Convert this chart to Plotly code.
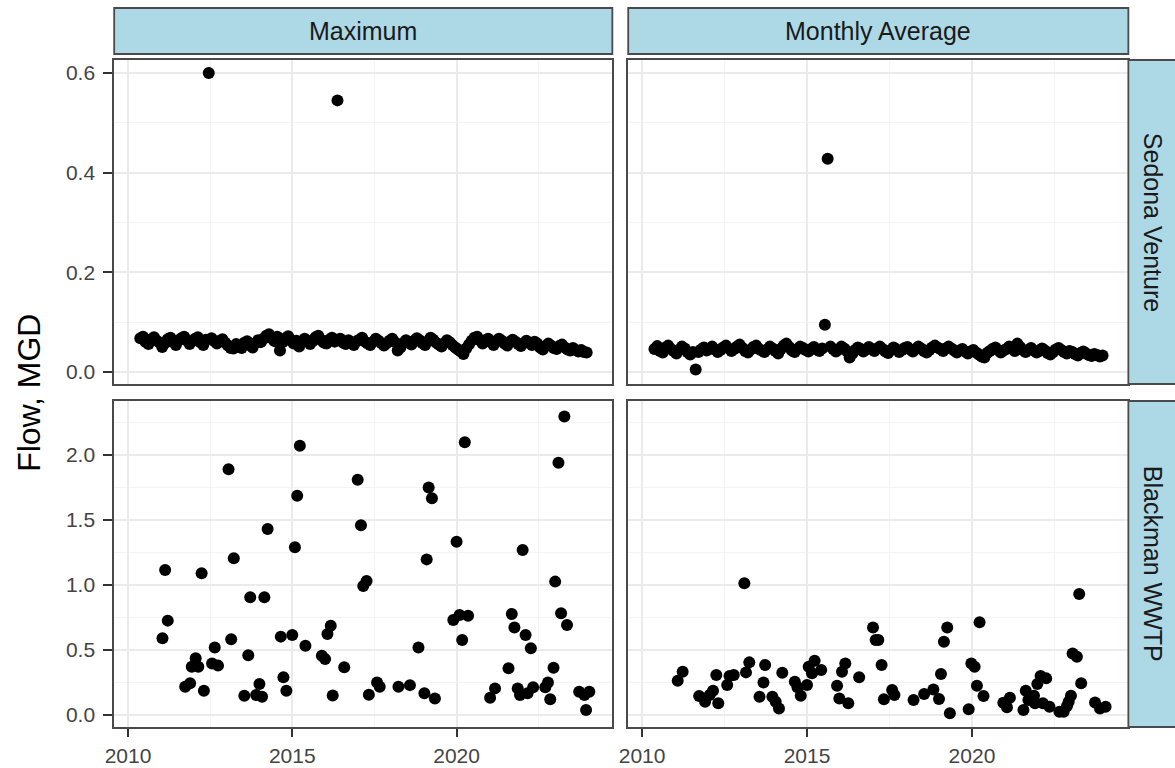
import plotly.graph_objects as go

W, H = 1175, 768

# ---------------- data ----------------
# Sedona Venture: monthly series starting May 2010 (decimal-year mid-month)
sed_start = 2010.375
sed_max = [
    # 2010 (May-Dec)
    0.068, 0.071, 0.060, 0.056, 0.066, 0.070, 0.063, 0.059,
    # 2011
    0.050, 0.058, 0.066, 0.069, 0.060, 0.054, 0.064, 0.068, 0.071, 0.063, 0.056, 0.062,
    # 2012
    0.067, 0.070, 0.059, 0.054, 0.065, 0.600, 0.068, 0.062, 0.057, 0.063, 0.066, 0.059,
    # 2013
    0.053, 0.048, 0.047, 0.056, 0.051, 0.048, 0.059, 0.062, 0.054, 0.049, 0.058, 0.064,
    # 2014
    0.060, 0.067, 0.073, 0.076, 0.068, 0.062, 0.071, 0.043, 0.060, 0.068, 0.072, 0.064,
    # 2015
    0.057, 0.063, 0.051, 0.060, 0.067, 0.063, 0.056, 0.062, 0.070, 0.073, 0.065, 0.059,
    # 2016
    0.057, 0.065, 0.069, 0.061, 0.545, 0.067, 0.059, 0.056, 0.064, 0.058, 0.054, 0.062,
    # 2017
    0.065, 0.069, 0.061, 0.057, 0.054, 0.061, 0.067, 0.063, 0.058, 0.053, 0.058, 0.063,
    # 2018
    0.067, 0.060, 0.043, 0.049, 0.058, 0.064, 0.060, 0.055, 0.063, 0.068, 0.064, 0.058,
    # 2019
    0.054, 0.062, 0.069, 0.065, 0.059, 0.055, 0.051, 0.058, 0.064, 0.060, 0.054, 0.049,
    # 2020
    0.045, 0.041, 0.036, 0.047, 0.055, 0.063, 0.069, 0.071, 0.064, 0.057, 0.064, 0.067,
    # 2021
    0.060, 0.054, 0.063, 0.067, 0.063, 0.057, 0.053, 0.061, 0.065, 0.061, 0.056, 0.052,
    # 2022
    0.058, 0.063, 0.059, 0.054, 0.061, 0.057, 0.049, 0.045, 0.052, 0.057, 0.053, 0.048,
    # 2023
    0.046, 0.052, 0.055, 0.049, 0.045, 0.043, 0.048, 0.044, 0.041, 0.044, 0.040, 0.039,
]
sed_avg = [
    # 2010 (May-Dec)
    0.046, 0.052, 0.042, 0.039, 0.049, 0.053, 0.046, 0.042,
    # 2011
    0.037, 0.044, 0.051, 0.047, 0.040, 0.035, 0.040, 0.005, 0.040, 0.045, 0.049, 0.043,
    # 2012
    0.046, 0.051, 0.045, 0.040, 0.044, 0.049, 0.053, 0.047, 0.042, 0.046, 0.051, 0.055,
    # 2013
    0.048, 0.042, 0.039, 0.045, 0.050, 0.053, 0.046, 0.043, 0.040, 0.045, 0.051, 0.047,
    # 2014
    0.042, 0.037, 0.046, 0.053, 0.057, 0.050, 0.043, 0.040, 0.046, 0.051, 0.048, 0.044,
    # 2015
    0.041, 0.046, 0.050, 0.045, 0.042, 0.047, 0.095, 0.428, 0.051, 0.046, 0.041, 0.045,
    # 2016
    0.051, 0.047, 0.042, 0.029, 0.037, 0.044, 0.049, 0.046, 0.041, 0.045, 0.050, 0.046,
    # 2017
    0.042, 0.047, 0.051, 0.046, 0.041, 0.038, 0.044, 0.049, 0.045, 0.040, 0.044, 0.048,
    # 2018
    0.050, 0.045, 0.041, 0.046, 0.051, 0.047, 0.042, 0.039, 0.044, 0.049, 0.053, 0.049,
    # 2019
    0.046, 0.042, 0.047, 0.051, 0.047, 0.043, 0.039, 0.043, 0.046, 0.041, 0.037, 0.041,
    # 2020
    0.044, 0.039, 0.035, 0.031, 0.029, 0.038, 0.042, 0.046, 0.049, 0.044, 0.039, 0.043,
    # 2021
    0.046, 0.051, 0.047, 0.042, 0.057, 0.050, 0.044, 0.040, 0.044, 0.048, 0.043, 0.039,
    # 2022
    0.042, 0.047, 0.043, 0.038, 0.035, 0.040, 0.045, 0.048, 0.044, 0.040, 0.037, 0.042,
    # 2023
    0.040, 0.036, 0.033, 0.038, 0.041, 0.037, 0.034, 0.032, 0.036, 0.034, 0.031, 0.033,
]

# Blackman WWTP: Maximum (decimal year, MGD)
bw_max_t = [2011.13, 2011.21, 2011.05, 2012.24, 2012.06, 2011.94, 2012.14, 2011.74, 2011.89, 2012.31,
            2012.64, 2012.56, 2012.74, 2013.06, 2013.22, 2013.14, 2013.72, 2014.15, 2014.25, 2013.66,
            2013.54, 2014.00, 2013.90, 2014.08, 2014.65, 2015.00, 2014.73, 2014.82, 2015.08, 2015.15,
            2015.23, 2015.40, 2015.90, 2016.00, 2016.07, 2016.17, 2016.23, 2016.58, 2016.99, 2017.09,
            2017.16, 2017.26, 2017.33, 2017.58, 2017.66, 2018.23, 2018.58, 2018.84, 2019.02, 2019.09,
            2019.15, 2019.25, 2019.34, 2019.90, 2020.00, 2020.09, 2020.25, 2020.35, 2020.17, 2021.02,
            2021.17, 2021.58, 2021.68, 2021.76, 2022.01, 2021.86, 2021.93, 2022.10, 2022.26, 2022.16,
            2022.33, 2022.70, 2022.78, 2022.85, 2022.95, 2023.00, 2023.10, 2023.18, 2023.36, 2023.28,
            2023.73, 2023.89, 2024.04, 2023.94]
bw_max_v = [1.115, 0.726, 0.590, 1.090, 0.436, 0.372, 0.372, 0.218, 0.244, 0.187,
            0.520, 0.397, 0.380, 1.890, 1.205, 0.582, 0.905, 0.905, 1.430, 0.460,
            0.149, 0.238, 0.154, 0.141, 0.603, 0.615, 0.290, 0.187, 1.290, 1.687,
            2.070, 0.533, 0.456, 0.430, 0.623, 0.687, 0.151, 0.367, 1.810, 1.460,
            0.992, 1.030, 0.156, 0.251, 0.218, 0.218, 0.230, 0.520, 0.167, 1.197,
            1.749, 1.667, 0.128, 0.730, 1.333, 0.770, 2.097, 0.764, 0.577, 0.133,
            0.205, 0.359, 0.777, 0.674, 1.270, 0.205, 0.154, 0.615, 0.513, 0.167,
            0.213, 0.213, 0.251, 0.121, 0.364, 1.026, 1.940, 0.782, 0.692, 2.295,
            0.179, 0.154, 0.179, 0.038]

# Blackman WWTP: Monthly Average
bw_avg_t = [2011.08, 2011.23, 2011.73, 2011.91, 2012.05, 2012.15, 2012.25, 2012.31, 2012.58, 2012.65,
            2012.78, 2013.10, 2013.15, 2013.25, 2013.56, 2013.68, 2013.73, 2013.95, 2014.05, 2014.15,
            2014.25, 2014.63, 2014.71, 2014.81, 2015.00, 2015.05, 2015.15, 2015.23, 2015.43, 2015.91,
            2015.98, 2016.06, 2016.16, 2016.25, 2016.58, 2017.00, 2017.08, 2017.16, 2017.26, 2017.33,
            2017.58, 2017.65, 2018.23, 2018.55, 2018.83, 2019.00, 2019.06, 2019.15, 2019.25, 2019.33,
            2019.90, 2019.98, 2020.08, 2020.15, 2020.23, 2020.35, 2020.95, 2021.06, 2021.15, 2021.56,
            2021.63, 2021.71, 2021.88, 2021.91, 2021.98, 2022.08, 2022.25, 2022.15, 2022.35, 2022.65,
            2022.78, 2022.88, 2022.93, 2023.00, 2023.05, 2023.18, 2023.25, 2023.31, 2023.73, 2023.88,
            2024.05]
bw_avg_v = [0.264, 0.333, 0.146, 0.103, 0.154, 0.187, 0.308, 0.090, 0.231, 0.300,
            0.308, 1.013, 0.328, 0.405, 0.141, 0.251, 0.385, 0.141, 0.103, 0.051,
            0.326, 0.256, 0.213, 0.149, 0.231, 0.372, 0.321, 0.418, 0.346, 0.226,
            0.128, 0.333, 0.397, 0.090, 0.290, 0.674, 0.577, 0.577, 0.385, 0.121,
            0.192, 0.154, 0.115, 0.162, 0.197, 0.123, 0.315, 0.564, 0.674, 0.013,
            0.044, 0.397, 0.372, 0.226, 0.713, 0.146, 0.095, 0.059, 0.133, 0.038,
            0.187, 0.115, 0.149, 0.090, 0.238, 0.300, 0.282, 0.090, 0.064, 0.026,
            0.026, 0.069, 0.103, 0.149, 0.474, 0.449, 0.931, 0.244, 0.097, 0.051,
            0.064]

col_labels = ["Maximum", "Monthly Average"]
row_labels = ["Sedona Venture", "Blackman WWTP"]
x_ticks = [2010, 2015, 2020]
y_ticks_top = [0.0, 0.2, 0.4, 0.6]
y_ticks_bot = [0.0, 0.5, 1.0, 1.5, 2.0]

sed_t = [sed_start + i / 12 for i in range(len(sed_max))]

# ---------------- figure ----------------
fig = go.Figure()
mk = dict(color="black", size=12, line=dict(width=0))
fig.add_trace(go.Scatter(x=bw_max_t, y=bw_max_v, mode="markers", marker=mk, xaxis="x", yaxis="y"))
fig.add_trace(go.Scatter(x=bw_avg_t, y=bw_avg_v, mode="markers", marker=mk, xaxis="x2", yaxis="y2"))
fig.add_trace(go.Scatter(x=sed_t, y=sed_max, mode="markers", marker=mk, xaxis="x3", yaxis="y3"))
fig.add_trace(go.Scatter(x=sed_t, y=sed_avg, mode="markers", marker=mk, xaxis="x4", yaxis="y4"))

def px_x(p):
    return p / W

def px_y(p):
    return 1 - p / H

L0, L1 = 106, 608
R0, R1 = 624, 1128
T0, T1 = 60, 384
B0, B1 = 401, 727

dom_left = [px_x(L0), px_x(L1)]
dom_right = [px_x(R0), px_x(R1)]
dom_top = [px_y(T1), px_y(T0)]
dom_bot = [px_y(B1), px_y(B0)]

FONT = "Liberation Sans, Arial, Helvetica, sans-serif"
grid_major = "#ebebeb"
grid_minor = "#f4f4f4"
line_col = "#4a4a4a"
tick_col = "#333333"
TICK_SIZE = 21
TICK_COLOR = "#444444"

def xaxis(domain, anchor, show_labels):
    d = dict(domain=domain, anchor=anchor, range=[2009.58, 2024.74],
             tickmode="array", tickvals=x_ticks, ticktext=[str(v) for v in x_ticks],
             showgrid=True, gridcolor=grid_major, gridwidth=1.8,
             minor=dict(tickvals=[2012.5, 2017.5, 2022.5], showgrid=True,
                        gridcolor=grid_minor, gridwidth=1.0),
             showline=True, linecolor=line_col, linewidth=1.8, mirror=True,
             zeroline=False, fixedrange=True)
    d["tickfont"] = dict(family=FONT, size=TICK_SIZE, color=TICK_COLOR)
    if show_labels:
        d.update(ticks="outside", ticklen=8, tickwidth=2, tickcolor=tick_col,
                 showticklabels=True, ticklabelstandoff=1)
    else:
        d.update(ticks="", showticklabels=False)
    return d

def yaxis(domain, anchor, rng, vals, minor_vals, show_labels):
    d = dict(domain=domain, anchor=anchor, range=rng,
             tickmode="array", tickvals=vals, ticktext=["%.1f" % v for v in vals],
             showgrid=True, gridcolor=grid_major, gridwidth=1.8,
             minor=dict(tickvals=minor_vals, showgrid=True,
                        gridcolor=grid_minor, gridwidth=1.0),
             showline=True, linecolor=line_col, linewidth=1.8, mirror=True,
             zeroline=False, fixedrange=True)
    d["tickfont"] = dict(family=FONT, size=TICK_SIZE, color=TICK_COLOR)
    if show_labels:
        d.update(ticks="outside", ticklen=9, tickwidth=2, tickcolor=tick_col,
                 showticklabels=True, ticklabelstandoff=4)
    else:
        d.update(ticks="", showticklabels=False)
    return d

rng_top = [-0.024, 0.626]
rng_bot = [-0.092, 2.415]
minor_top = [0.1, 0.3, 0.5]
minor_bot = [0.25, 0.75, 1.25, 1.75, 2.25]

fig.update_layout(
    width=W, height=H,
    margin=dict(l=0, r=0, t=0, b=0),
    paper_bgcolor="white", plot_bgcolor="white",
    showlegend=False,
    font=dict(family=FONT, size=TICK_SIZE),
    xaxis=xaxis(dom_left, "y", True),
    yaxis=yaxis(dom_bot, "x", rng_bot, y_ticks_bot, minor_bot, True),
    xaxis2=xaxis(dom_right, "y2", True),
    yaxis2=yaxis(dom_bot, "x2", rng_bot, y_ticks_bot, minor_bot, False),
    xaxis3=xaxis(dom_left, "y3", False),
    yaxis3=yaxis(dom_top, "x3", rng_top, y_ticks_top, minor_top, True),
    xaxis4=xaxis(dom_right, "y4", False),
    yaxis4=yaxis(dom_top, "x4", rng_top, y_ticks_top, minor_top, False),
)

strip_fill = "#add8e6"
shapes = []
annotations = []
# column strips
S0, S1 = 8, 54
for (a, b), lab in zip([(L0, L1), (R0, R1)], col_labels):
    shapes.append(dict(type="rect", xref="paper", yref="paper",
                       x0=px_x(a), x1=px_x(b), y0=px_y(S1), y1=px_y(S0),
                       fillcolor=strip_fill, line=dict(color=line_col, width=1.8), layer="above"))
    annotations.append(dict(xref="paper", yref="paper", x=px_x((a + b) / 2), y=px_y((S0 + S1) / 2),
                            text=lab, showarrow=False, xanchor="center", yanchor="middle",
                            font=dict(family=FONT, size=25, color="#1a1a1a")))
# row strips (extend past right edge of the figure)
RS0, RS1 = 1128, 1185
for (a, b), lab in zip([(T0, T1), (B0, B1)], row_labels):
    shapes.append(dict(type="rect", xref="paper", yref="paper",
                       x0=px_x(RS0), x1=px_x(RS1), y0=px_y(b), y1=px_y(a),
                       fillcolor=strip_fill, line=dict(color=line_col, width=1.8), layer="above"))
    annotations.append(dict(xref="paper", yref="paper", x=px_x(1153), y=px_y((a + b) / 2),
                            text=lab, showarrow=False, xanchor="center", yanchor="middle",
                            textangle=90,
                            font=dict(family=FONT, size=25, color="#1a1a1a")))
# y axis title
annotations.append(dict(xref="paper", yref="paper", x=px_x(20), y=px_y(393),
                        text="Flow, MGD", showarrow=False, xanchor="center", yanchor="middle",
                        textangle=-90, font=dict(family=FONT, size=32, color="black")))

fig.update_layout(shapes=shapes, annotations=annotations)

fig.write_html("out.html")
